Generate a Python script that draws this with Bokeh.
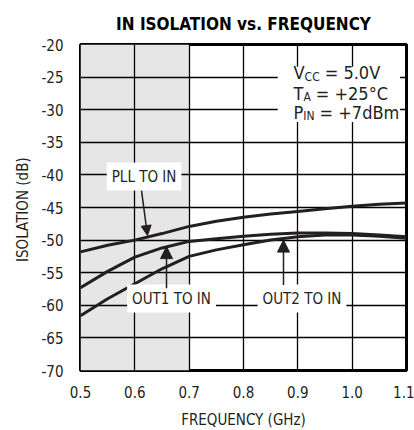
from bokeh.plotting import figure
from bokeh.models import (BoxAnnotation, Label, Arrow, NormalHead, FixedTicker, Range1d)
from bokeh.embed import file_html
from bokeh.resources import INLINE

# ---- data ----
freq_ghz = [0.50, 0.55, 0.60, 0.65, 0.70, 0.75, 0.80, 0.85, 0.90, 0.95, 1.00, 1.05, 1.10]
pll_to_in = [-51.8, -50.8, -50.0, -49.0, -47.9, -47.1, -46.5, -46.0, -45.6, -45.2, -44.8, -44.5, -44.3]
out1_to_in = [-57.3, -54.8, -52.6, -51.2, -50.2, -49.8, -49.4, -49.1, -48.9, -48.9, -49.0, -49.2, -49.5]
out2_to_in = [-61.6, -59.0, -56.7, -54.4, -52.5, -51.5, -50.7, -50.0, -49.5, -49.2, -49.2, -49.4, -49.7]

x_ticks = [0.5, 0.6, 0.7, 0.8, 0.9, 1.0, 1.1]
x_tick_labels = ["0.5", "0.6", "0.7", "0.8", "0.9", "1.0", "1.1"]
y_ticks = [-20, -25, -30, -35, -40, -45, -50, -55, -60, -65, -70]
y_tick_labels = ["-20", "-25", "-30", "-35", "-40", "-45", "-50", "-55", "-60", "-65", "-70"]

shade_range = (0.5, 0.7)

FONT = "Liberation Sans Narrow, DejaVu Sans Condensed, Roboto"
INK = "#231f20"

p = figure(frame_width=326, frame_height=326,
           min_border_left=80, min_border_right=8, min_border_top=44, min_border_bottom=60,
           x_range=Range1d(0.5, 1.1), y_range=Range1d(-70, -20),
           output_backend="svg", toolbar_location=None, tools="")

p.title.text = "IN ISOLATION vs. FREQUENCY"
p.title.align = "center"
p.title.text_font = FONT
p.title.text_font_style = "bold"
p.title.text_font_size = "17px"
p.title.text_color = "black"
p.title.standoff = 22

p.background_fill_color = "white"
p.border_fill_color = "white"
p.outline_line_color = "black"
p.outline_line_width = 3

# shaded region (drawn beneath the grid)
p.add_layout(BoxAnnotation(left=shade_range[0], right=shade_range[1],
                           fill_color="#e6e6e6", fill_alpha=1.0, line_color=None,
                           level="image"))

for ax in (p.xaxis, p.yaxis):
    ax.axis_line_color = None
    ax.major_tick_line_color = None
    ax.minor_tick_line_color = None
    ax.major_tick_out = 0
    ax.major_tick_in = 0
    ax.minor_tick_out = 0
    ax.major_label_text_font = FONT
    ax.major_label_text_font_size = "15px"
    ax.major_label_text_color = INK
    ax.axis_label_text_font = FONT
    ax.axis_label_text_font_size = "15px"
    ax.axis_label_text_font_style = "normal"
    ax.axis_label_text_color = INK

p.xaxis.ticker = FixedTicker(ticks=x_ticks)
p.xaxis.major_label_overrides = dict(zip(x_ticks, x_tick_labels))
p.yaxis.ticker = FixedTicker(ticks=y_ticks)
p.yaxis.major_label_overrides = dict(zip(y_ticks, y_tick_labels))
p.xaxis.axis_label = "FREQUENCY (GHz)"
p.yaxis.axis_label = "ISOLATION  (dB)"
p.xaxis.major_label_standoff = 15
p.yaxis.major_label_standoff = 17
p.xaxis.axis_label_standoff = 10
p.yaxis.axis_label_standoff = 6

p.xgrid.grid_line_color = "black"
p.ygrid.grid_line_color = "black"
p.xgrid.grid_line_width = 1.3
p.ygrid.grid_line_width = 1.3

for ys in (pll_to_in, out1_to_in, out2_to_in):
    p.line(freq_ghz, ys, line_width=3, line_color=INK)

# curve labels
for txt, xx, yy in (("PLL TO IN", 0.617, -40.25), ("OUT1 TO IN", 0.6675, -58.96), ("OUT2 TO IN", 0.9077, -58.96)):
    p.add_layout(Label(x=xx, y=yy, text=txt, text_align="center", text_baseline="middle",
                       text_font=FONT, text_font_size="15px", text_color=INK,
                       background_fill_color="white", padding=5))

# arrows
for (x0, y0, x1, y1, sz) in ((0.6123, -42.4, 0.6233, -49.3, 10),
                             (0.6583, -57.4, 0.6583, -51.0, 12),
                             (0.8736, -56.9, 0.8736, -50.0, 12)):
    p.add_layout(Arrow(x_start=x0, y_start=y0, x_end=x1, y_end=y1, line_width=1.5, line_color=INK,
                       end=NormalHead(size=sz, fill_color=INK, line_color=INK)))

# conditions box
p.add_layout(BoxAnnotation(left=0.863, right=1.088, top=-23.4, bottom=-31.9,
                           fill_color="white", fill_alpha=1.0, line_color=None))
cond_x = 0.892
rows = [("V", "CC", "= 5.0V", -24.35), ("T", "A", "= +25°C", -27.45), ("P", "IN", "= +7dBm", -30.4)]
main_w = {"V": 11.1, "T": 9.9, "P": 9.8}
sub_w = {"CC": 15.1, "A": 7.4, "IN": 11.3}
gap = 5
for main, sub, rest, yy in rows:
    p.add_layout(Label(x=cond_x, y=yy, text=main, text_font=FONT, text_font_size="18px",
                       text_color=INK, text_baseline="alphabetic"))
    p.add_layout(Label(x=cond_x, y=yy, x_offset=main_w[main], y_offset=-4, text=sub,
                       text_font=FONT, text_font_size="12px", text_color=INK,
                       text_baseline="alphabetic"))
    p.add_layout(Label(x=cond_x, y=yy, x_offset=main_w[main] + sub_w[sub] + gap, text=rest,
                       text_font=FONT, text_font_size="18px", text_color=INK,
                       text_baseline="alphabetic"))

open("out.html", "w").write(file_html(p, INLINE))
